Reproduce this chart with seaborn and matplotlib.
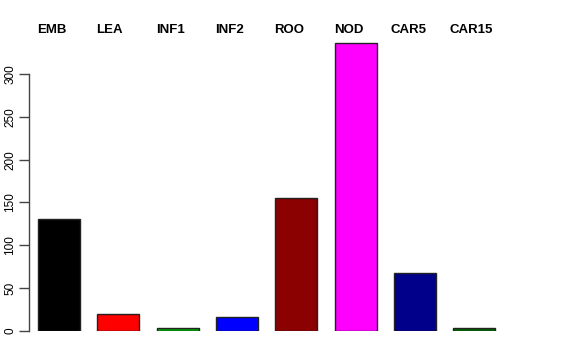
import numpy as np
import pandas as pd
import matplotlib
matplotlib.use("Agg")
import matplotlib.pyplot as plt
import seaborn as sns

tissues = ["EMB", "LEA", "INF1", "INF2", "ROO", "NOD", "CAR5", "CAR15"]
counts = [131, 20, 3, 16, 155, 336, 68, 4]
bar_colors = ["#000000", "#FF0000", "#00A000", "#0000FF",
              "#8B0000", "#FF00FF", "#00008B", "#006400"]

df = pd.DataFrame({"tissue": tissues, "count": counts})

sns.set_style("white")
plt.rcParams["font.family"] = ["Liberation Sans", "DejaVu Sans"]

fig = plt.figure(figsize=(5.76, 3.6), dpi=100)
ax = fig.add_axes([0.0503, 0.0806, 0.835, 0.821])

sns.barplot(data=df, x="tissue", y="count", hue="tissue", palette=bar_colors,
            width=0.71, edgecolor="#222222", linewidth=1, legend=False, ax=ax,
            saturation=1)

ax.set_xlim(-0.505, 7.6)
ax.set_ylim(0, 345)
ax.set_xlabel("")
ax.set_ylabel("")
ax.set_xticks([])

ax.set_yticks([0, 50, 100, 150, 200, 250, 300])
ax.tick_params(axis="y", direction="out", length=7, width=1, color="#444444",
               labelsize=8.5, labelcolor="black", pad=2, left=True)
for lab in ax.get_yticklabels():
    lab.set_rotation(90)
    lab.set_va("center")

for side in ["top", "right", "bottom"]:
    ax.spines[side].set_visible(False)
ax.spines["left"].set_bounds(0, 300)
ax.spines["left"].set_color("#444444")
ax.spines["left"].set_linewidth(1)

# tissue names along the top, starting near each bar's left edge
for i, name in enumerate(tissues):
    shift = 0.05 if i == 7 else (0.04 if i == 6 else 0.0)
    ax.text(i - 0.37 - shift, 1.018, name, color="black",
            transform=ax.get_xaxis_transform(), ha="left", va="center",
            fontsize=9.5, fontweight="bold")

fig.savefig("out.png", dpi=100)
